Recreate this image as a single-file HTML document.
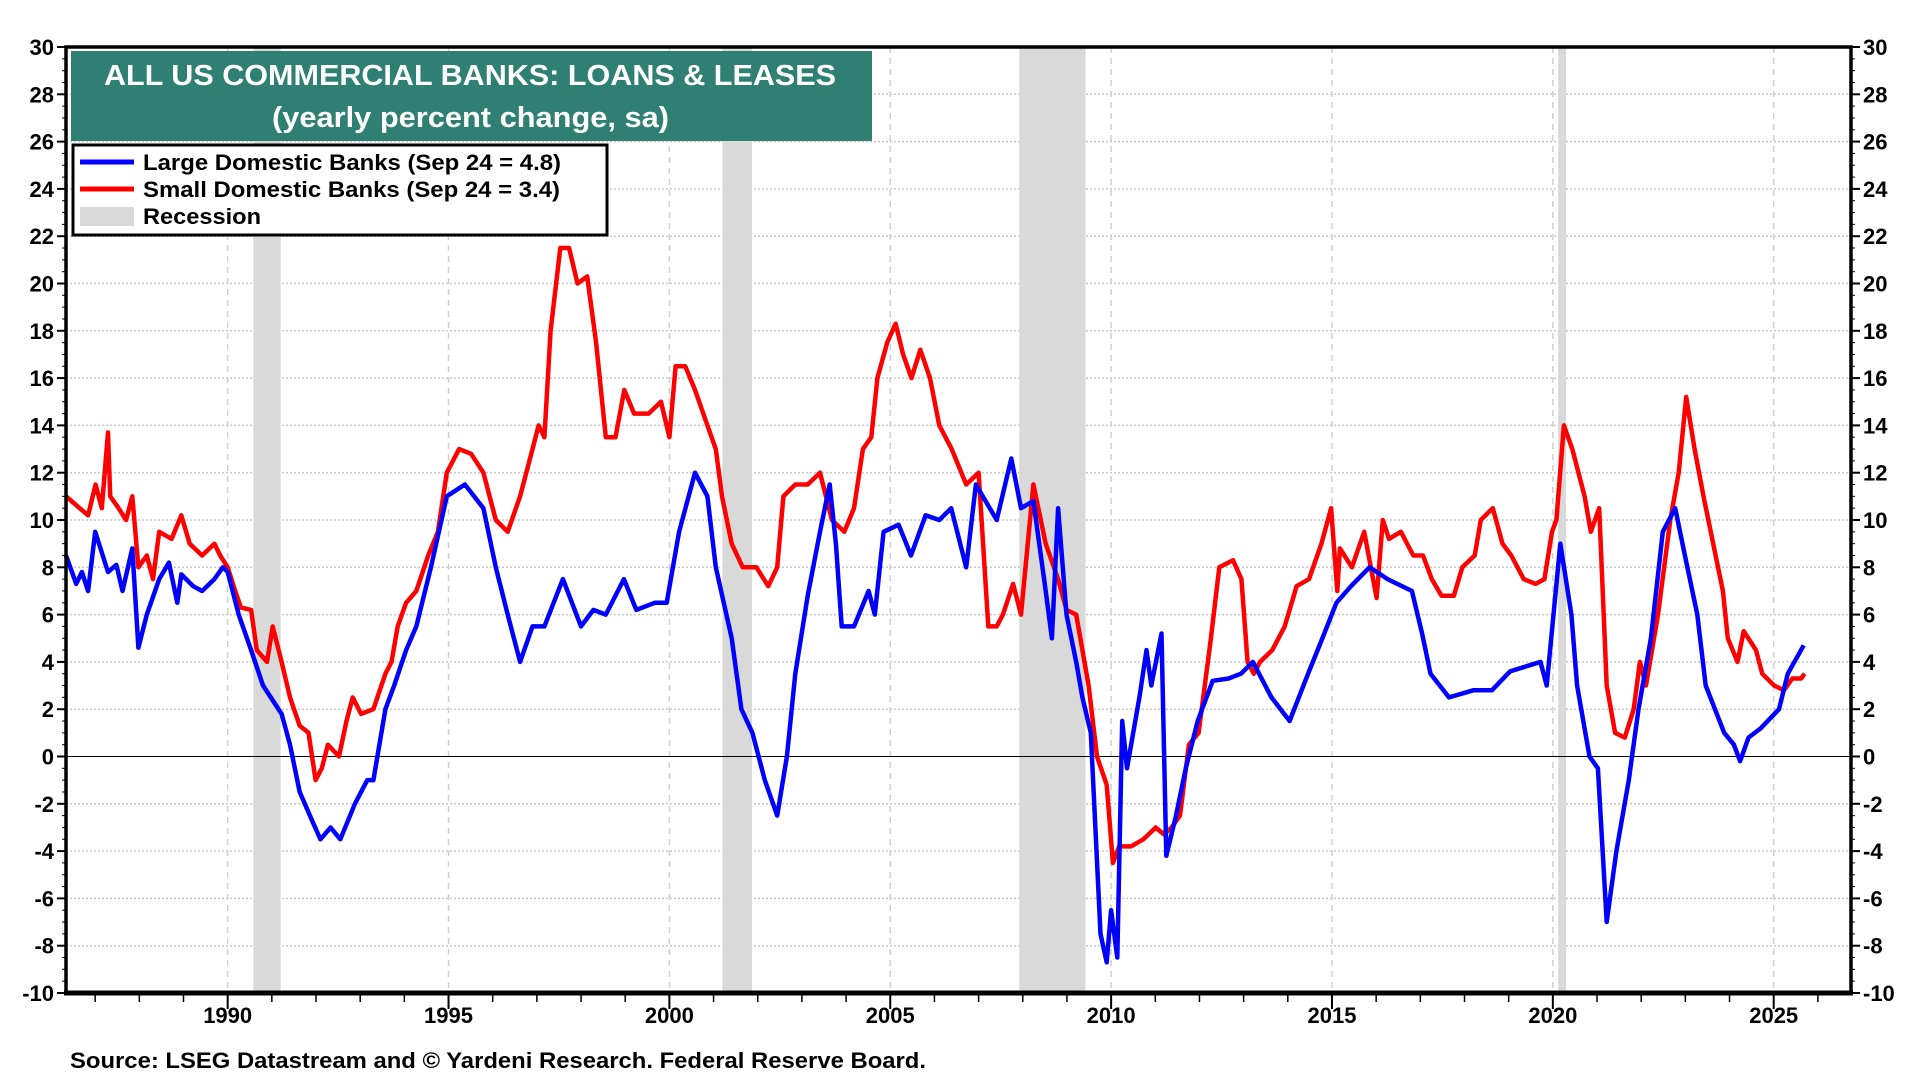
<!DOCTYPE html>
<html><head><meta charset="utf-8"><style>
html,body{margin:0;padding:0;background:#fff;}
svg{display:block;font-family:"Liberation Sans Narrow","Liberation Sans",sans-serif;font-weight:bold;}
</style></head><body>
<svg id="chart" width="1920" height="1080" viewBox="0 0 1920 1080" xmlns="http://www.w3.org/2000/svg">
<g id="grid"></g>
<g id="rec"></g>
<g id="series"></g>
<g id="axes"></g>
<rect x="71" y="51" width="801" height="90" fill="#2f7f72"/>
<text x="104" y="85" fill="#fff" font-size="29" textLength="732" lengthAdjust="spacingAndGlyphs" font-family="Liberation Sans, sans-serif">ALL US COMMERCIAL BANKS: LOANS &amp; LEASES</text>
<text x="272" y="127" fill="#fff" font-size="29" textLength="397" lengthAdjust="spacingAndGlyphs" font-family="Liberation Sans, sans-serif">(yearly percent change, sa)</text>
<g>
<rect x="73" y="145" width="534" height="90" fill="#fff" stroke="#000" stroke-width="3"/>
<line x1="80" y1="162" x2="134" y2="162" stroke="#0000ff" stroke-width="5"/>
<text x="143" y="170" font-size="22" textLength="418" lengthAdjust="spacingAndGlyphs" font-family="Liberation Sans, sans-serif">Large Domestic Banks (Sep 24 = 4.8)</text>
<line x1="80" y1="189" x2="134" y2="189" stroke="#ff0000" stroke-width="5"/>
<text x="143" y="197" font-size="22" textLength="417" lengthAdjust="spacingAndGlyphs" font-family="Liberation Sans, sans-serif">Small Domestic Banks (Sep 24 = 3.4)</text>
<rect x="80" y="207" width="54" height="19" fill="#d9d9d9"/>
<text x="143" y="224" font-size="22" textLength="118" lengthAdjust="spacingAndGlyphs" font-family="Liberation Sans, sans-serif">Recession</text>
</g>
<text x="70" y="1068" font-size="22" textLength="856" lengthAdjust="spacingAndGlyphs" font-family="Liberation Sans, sans-serif">Source: LSEG Datastream and © Yardeni Research. Federal Reserve Board.</text>
</svg>
<script>
const largeDates=[1986.34,1986.57,1986.7,1986.84,1987.0,1987.29,1987.48,1987.62,1987.84,1987.98,1988.17,1988.45,1988.67,1988.86,1988.95,1989.22,1989.42,1989.7,1989.89,1990.0,1990.25,1990.53,1990.8,1991.22,1991.41,1991.63,1991.91,1992.1,1992.33,1992.55,1992.88,1993.16,1993.3,1993.57,1993.77,1994.04,1994.27,1994.6,1994.96,1995.37,1995.79,1996.07,1996.34,1996.62,1996.9,1997.17,1997.59,1998.0,1998.28,1998.56,1998.97,1999.25,1999.67,1999.94,2000.22,2000.58,2000.86,2001.05,2001.41,2001.63,2001.88,2002.16,2002.44,2002.66,2002.85,2003.13,2003.41,2003.63,2003.77,2003.9,2004.18,2004.51,2004.65,2004.85,2005.19,2005.47,2005.8,2006.11,2006.38,2006.72,2006.94,2007.41,2007.74,2007.96,2008.24,2008.52,2008.66,2008.8,2008.99,2009.21,2009.35,2009.54,2009.76,2009.9,2010.0,2010.14,2010.25,2010.36,2010.64,2010.8,2010.91,2011.14,2011.25,2011.47,2011.69,2011.96,2012.3,2012.66,2012.94,2013.21,2013.63,2014.04,2014.46,2014.74,2015.1,2015.43,2015.85,2016.26,2016.81,2017.04,2017.23,2017.65,2018.2,2018.62,2019.03,2019.72,2019.86,2020.17,2020.42,2020.55,2020.83,2021.02,2021.22,2021.44,2021.72,2021.94,2022.22,2022.49,2022.77,2022.99,2023.27,2023.46,2023.88,2024.1,2024.24,2024.43,2024.71,2025.12,2025.32,2025.68];
const largeValues=[8.5,7.3,7.8,7.0,9.5,7.8,8.1,7.0,8.8,4.6,6.0,7.5,8.2,6.5,7.7,7.2,7.0,7.5,8.0,7.8,6,4.5,3,1.8,0.5,-1.5,-2.7,-3.5,-3,-3.5,-2,-1,-1,2,3,4.5,5.5,8,11,11.5,10.5,8,6,4,5.5,5.5,7.5,5.5,6.2,6,7.5,6.2,6.5,6.5,9.5,12,11,8,5,2,1,-1,-2.5,0,3.5,6.8,9.5,11.5,9,5.5,5.5,7,6,9.5,9.8,8.5,10.2,10,10.5,8,11.5,10,12.6,10.5,10.8,7,5,10.5,6,4,2.5,1,-7.5,-8.7,-6.5,-8.5,1.5,-0.5,2.5,4.5,3,5.2,-4.2,-2.5,-0.5,1.5,3.2,3.3,3.5,4.0,2.5,1.5,3.5,4.8,6.5,7.2,8,7.5,7,5.2,3.5,2.5,2.8,2.8,3.6,4,3,9,6,3,0,-0.5,-7,-4,-1,2,5,9.5,10.5,8.5,6,3,1,0.5,-0.2,0.8,1.2,2,3.5,4.7];
const smallDates=[1986.34,1986.65,1986.84,1987.01,1987.15,1987.29,1987.34,1987.53,1987.70,1987.84,1987.98,1988.17,1988.31,1988.45,1988.73,1988.95,1989.14,1989.42,1989.70,1989.83,1990.00,1990.17,1990.30,1990.53,1990.66,1990.89,1991.02,1991.22,1991.41,1991.63,1991.83,1991.99,1992.13,1992.27,1992.52,1992.69,1992.83,1993.02,1993.30,1993.57,1993.71,1993.85,1994.04,1994.27,1994.54,1994.76,1994.96,1995.24,1995.51,1995.79,1996.07,1996.34,1996.62,1996.90,1997.04,1997.17,1997.31,1997.53,1997.73,1997.92,1998.14,1998.34,1998.56,1998.78,1998.98,1999.20,1999.53,1999.81,2000.00,2000.14,2000.36,2000.58,2000.86,2001.05,2001.19,2001.41,2001.66,2001.97,2002.24,2002.44,2002.58,2002.85,2003.13,2003.41,2003.68,2003.96,2004.18,2004.38,2004.57,2004.71,2004.93,2005.12,2005.29,2005.48,2005.68,2005.90,2006.11,2006.39,2006.72,2007.00,2007.22,2007.41,2007.55,2007.78,2007.96,2008.24,2008.52,2008.80,2008.99,2009.21,2009.49,2009.68,2009.90,2010.04,2010.18,2010.45,2010.73,2011.01,2011.20,2011.37,2011.56,2011.76,2011.98,2012.12,2012.26,2012.45,2012.76,2012.95,2013.09,2013.23,2013.37,2013.65,2013.93,2014.20,2014.48,2014.76,2014.98,2015.12,2015.18,2015.45,2015.73,2016.01,2016.15,2016.29,2016.56,2016.84,2017.06,2017.26,2017.48,2017.76,2017.95,2018.23,2018.37,2018.64,2018.86,2019.06,2019.34,2019.61,2019.81,2019.98,2020.08,2020.25,2020.44,2020.72,2020.86,2021.05,2021.22,2021.41,2021.63,2021.83,2021.97,2022.11,2022.38,2022.66,2022.85,2023.02,2023.21,2023.41,2023.63,2023.85,2023.96,2024.18,2024.32,2024.60,2024.74,2025.01,2025.23,2025.42,2025.62,2025.70];
const smallValues=[11,10.5,10.2,11.5,10.5,13.7,11,10.5,10,11,8,8.5,7.5,9.5,9.2,10.2,9,8.5,9,8.5,8,7,6.3,6.2,4.5,4,5.5,4,2.5,1.3,1,-1,-0.5,0.5,0,1.5,2.5,1.8,2,3.5,4.0,5.5,6.5,7,8.5,9.5,12,13,12.8,12,10,9.5,11,13,14,13.5,18,21.5,21.5,20,20.3,17.5,13.5,13.5,15.5,14.5,14.5,15,13.5,16.5,16.5,15.5,14,13,11,9,8,8,7.2,8,11,11.5,11.5,12,10,9.5,10.5,13,13.5,16,17.5,18.3,17,16,17.2,16,14,13,11.5,12,5.5,5.5,6,7.3,6,11.5,9,7.5,6.2,6,3,0,-1.2,-4.5,-3.8,-3.8,-3.5,-3,-3.3,-3,-2.5,0.5,1,3,5,8,8.3,7.5,4,3.5,4,4.5,5.5,7.2,7.5,9,10.5,7,8.8,8,9.5,6.7,10,9.2,9.5,8.5,8.5,7.5,6.8,6.8,8,8.5,10,10.5,9,8.5,7.5,7.3,7.5,9.5,10,14,13,11,9.5,10.5,3,1,0.8,2,4,3,6,10,12,15.2,13,11,9,7,5,4,5.3,4.5,3.5,3,2.8,3.3,3.3,3.5];
const recessionStarts=[1990.58,2001.2,2007.92,2020.12];
const recessionEnds=[1991.2,2001.87,2009.42,2020.3];
const yTicks=[30,28,26,24,22,20,18,16,14,12,10,8,6,4,2,0,-2,-4,-6,-8,-10];
const xTickYears=[1990,1995,2000,2005,2010,2015,2020,2025];

const L=66,R=1851,T=47,B=993,X0=1986.34,X1=2026.75,YMIN=-10,YMAX=30;
const xs=y=>L+(y-X0)/(X1-X0)*(R-L);
const ys=v=>B-(v-YMIN)/(YMAX-YMIN)*(B-T);
const NS='http://www.w3.org/2000/svg';
function mk(tag,attrs,parent){const e=document.createElementNS(NS,tag);for(const k in attrs)e.setAttribute(k,attrs[k]);parent.appendChild(e);return e;}
const grid=document.getElementById('grid'),rec=document.getElementById('rec'),ser=document.getElementById('series'),ax=document.getElementById('axes');

yTicks.forEach(v=>{
  if(v!==YMIN&&v!==YMAX&&v!==0){const g=mk('line',{x1:L,x2:R,y1:ys(v),y2:ys(v),stroke:'#c8c8c8','stroke-width':1.5,'stroke-dasharray':'2 2'},grid);
  
  }
});
xTickYears.forEach(yr=>{
  const g=mk('line',{x1:xs(yr),x2:xs(yr),y1:T,y2:B,stroke:'#d0d0d0','stroke-width':1.5,'stroke-dasharray':'6 5'},grid);
  
  
});
recessionStarts.forEach((s,i)=>{
  const r=mk('rect',{x:xs(s),y:T,width:xs(recessionEnds[i])-xs(s),height:B-T,fill:'#d9d9d9'},rec);
  
  
});
const z=mk('line',{x1:L,x2:R,y1:ys(0),y2:ys(0),stroke:'#000','stroke-width':1},ser);


function line(d,v,c,name){
  const p=mk('path',{d:d.map((x,i)=>(i?'L':'M')+xs(x).toFixed(1)+' '+ys(v[i]).toFixed(1)).join(''),fill:'none',stroke:c,'stroke-width':4.5,'stroke-linejoin':'round'},ser);
  
  
}
line(smallDates,smallValues,'#ff0000','small-banks-line');
line(largeDates,largeValues,'#0000ff','large-banks-line');

const fr=mk('rect',{x:L,y:T,width:R-L,height:B-T,fill:'none',stroke:'#000','stroke-width':3.5},ax);


const bl=mk('line',{x1:L-2,x2:R+2,y1:B,y2:B,stroke:'#000','stroke-width':5},ax);


for(let v=YMIN;v<=YMAX;v+=0.5){
  const major=v%2===0;const len=major?9:4;
  mk('line',{x1:L-len,x2:L,y1:ys(v),y2:ys(v),stroke:'#000','stroke-width':major?2:1},ax);
  mk('line',{x1:R,x2:R+len,y1:ys(v),y2:ys(v),stroke:'#000','stroke-width':major?2:1},ax);
}
yTicks.forEach(v=>{
  const t1=mk('text',{x:L-12,y:ys(v)+8,'font-size':22,'text-anchor':'end'},ax);t1.textContent=v;
  
  
  const t2=mk('text',{x:R+12,y:ys(v)+8,'font-size':22,'text-anchor':'start'},ax);t2.textContent=v;
  
  
});
for(let yr=1987;yr<=2026;yr++){
  const major=yr%5===0;
  mk('line',{x1:xs(yr),x2:xs(yr),y1:B,y2:B+(major?16:9),stroke:'#000','stroke-width':major?2:1.5},ax);
}
xTickYears.forEach(yr=>{
  const t=mk('text',{x:xs(yr),y:B+30,'font-size':22,'text-anchor':'middle'},ax);t.textContent=yr;
  
  
});
</script>
</body></html>
